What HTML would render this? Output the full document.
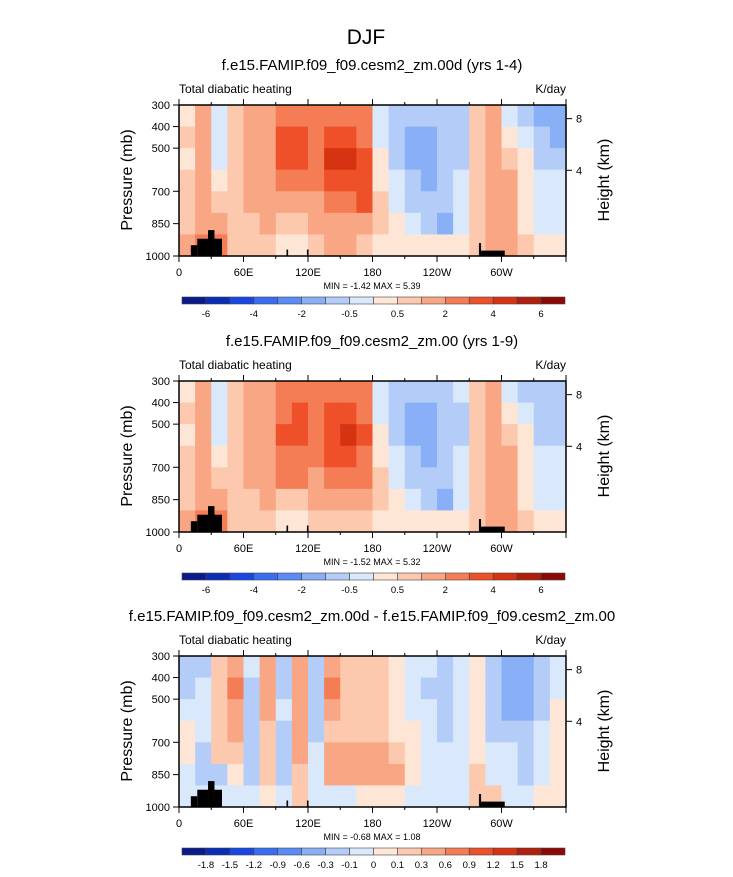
<!DOCTYPE html>
<html><head><meta charset="utf-8"><style>
body{margin:0;background:#fff}
svg text{font-family:"Liberation Sans",Arial,sans-serif;fill:#000}
</style></head><body>
<svg id="chart" width="733" height="872" viewBox="0 0 733 872" xmlns="http://www.w3.org/2000/svg">
<text x="366" y="44" font-size="21" text-anchor="middle">DJF</text>
</svg>
<script>
const lonCenters=[7.5,22.5,37.5,52.5,67.5,82.5,97.5,112.5,127.5,142.5,157.5,172.5,187.5,202.5,217.5,232.5,247.5,262.5,277.5,292.5,307.5,322.5,337.5,352.5];
const pressureBands=[[300,400],[400,500],[500,600],[600,700],[700,800],[800,900],[900,1000]];
const levels1=[-6,-5,-4,-3,-2,-1,-0.5,0,0.5,1,2,3,4,5,6];
const levels3=[-1.8,-1.5,-1.2,-0.9,-0.6,-0.3,-0.1,0,0.1,0.3,0.6,0.9,1.2,1.5,1.8];
const labels1=["-6","","-4","","-2","","-0.5","","0.5","","2","","4","","6"];
const labels3=["-1.8","-1.5","-1.2","-0.9","-0.6","-0.3","-0.1","0","0.1","0.3","0.6","0.9","1.2","1.5","1.8"];
const xTickLabels=["0","60E","120E","180","120W","60W"];
const xTickLons=[0,60,120,180,240,300];
const presTicks=[300,400,500,700,850,1000];
const heightTicks=[8,4];
const colors=["#0b1a8a","#0a2db5","#1848e2","#3a6cf2","#5b8bf5","#89aff6","#b4cdf8","#d9e9fb","#fde6d6","#fcc9af","#f8a683","#f47d56","#ee5129","#d63313","#b01f0b","#8c0a05"];
const field1=[
[0.3,1,-0.3,0.7,1.5,1.5,2,2.5,2,2.5,2.5,2,-0.3,-0.7,-0.7,-0.7,-0.7,-0.7,0.7,1,-0.2,-0.7,-1.2,-1.2],
[0.5,1.5,-0.3,0.7,1.5,1.5,3,3,2.5,3.5,3.5,2.5,-0.2,-0.7,-1.2,-1.2,-0.7,-0.7,0.7,1.5,0.2,-0.2,-0.7,-1.2],
[0.3,1.5,-0.3,0.7,1.5,1.5,3,3,2.5,4,4.5,3,0.2,-0.7,-1.2,-1.2,-0.7,-0.7,0.7,1.5,0.7,0.2,-0.7,-0.7],
[0.7,1.5,0.2,0.7,1,1.5,2,2.5,2,3,3,3,0.2,-0.3,-0.7,-1.2,-0.7,-0.3,0.7,1.5,1,0.2,-0.3,-0.3],
[0.7,1.5,0.7,0.7,1,1.5,1.5,1.5,1.5,2,2.5,3,0.7,-0.2,-0.7,-0.7,-0.7,-0.2,0.7,1.5,1,0.2,-0.3,-0.3],
[0.7,1.5,1.5,0.7,0.7,1,0.7,0.7,1,1.5,1.5,1.5,0.7,0.2,-0.2,-0.7,-1.2,-0.2,0.7,1.5,1,0.2,-0.3,-0.3],
[1.5,2,2,0.7,0.7,0.7,0.3,0.3,0.7,1,1,0.7,0.3,0.2,0.2,0.2,0.2,0.2,0.7,1,1.5,0.7,0.3,0.3]];
const field2=[
[0.3,1,-0.3,0.7,1.5,1.5,2,2,2,2.5,2.5,2,-0.3,-0.7,-0.7,-0.7,-0.7,-0.3,0.7,1,-0.2,-0.7,-0.7,-0.7],
[0.5,1.5,-0.3,0.7,1.5,1.5,2.5,3,2.5,3,3,2.5,-0.2,-0.7,-1.2,-1.2,-0.7,-0.7,0.7,1.5,0.2,-0.2,-0.7,-0.7],
[0.3,1.5,-0.3,0.7,1.5,1.5,3,3,2.5,3,4,3,0.2,-0.7,-1.2,-1.2,-0.7,-0.7,0.7,1.5,0.7,0.2,-0.7,-0.7],
[0.7,1.5,0.2,0.7,1,1.5,2,2.5,2,3,3,2.5,0.2,-0.3,-0.7,-1.2,-0.7,-0.3,0.7,1.5,1,0.2,-0.3,-0.3],
[0.7,1.5,0.7,0.7,1,1.5,2,2,1.5,2,2,2,0.7,-0.2,-0.7,-0.7,-0.7,-0.2,0.7,1.5,1,0.2,-0.3,-0.3],
[0.7,1.5,1.5,0.7,0.7,1,0.7,0.7,1,1.5,1.5,1.5,0.7,0.2,-0.2,-0.7,-1.2,-0.2,0.7,1.5,1,0.2,-0.3,-0.3],
[1.5,2,2,0.7,0.7,0.7,0.3,0.3,0.7,0.7,0.7,0.7,0.3,0.2,0.2,0.2,0.2,0.2,0.7,1,1.5,0.7,0.3,0.3]];
const field3=[
[-0.2,-0.15,0.2,0.5,-0.1,0.35,-0.2,0.5,-0.2,0.5,0.2,0.2,0.2,0.05,-0.05,-0.05,-0.2,-0.05,0.05,-0.3,-0.5,-0.6,-0.3,-0.05],
[-0.2,-0.1,0.2,0.6,-0.15,0.35,-0.2,0.4,-0.3,0.6,0.2,0.2,0.2,0.05,-0.05,-0.2,-0.3,-0.1,0.05,-0.3,-0.6,-0.6,-0.3,-0.05],
[-0.1,-0.1,0.1,0.5,-0.2,0.3,-0.1,0.35,-0.2,0.35,0.2,0.2,0.2,0.05,-0.05,-0.1,-0.2,-0.1,0.05,-0.2,-0.5,-0.4,-0.2,0.05],
[0.05,-0.1,0.1,0.35,-0.2,0.2,-0.2,0.3,-0.2,0.2,0.2,0.2,0.2,0.05,0.05,-0.05,-0.2,-0.1,0.05,-0.2,-0.2,-0.2,-0.1,0.05],
[0.05,-0.2,0.1,0.2,-0.2,0.1,-0.2,0.3,-0.1,0.35,0.35,0.4,0.4,0.2,0.05,-0.05,-0.1,-0.1,0.05,-0.1,-0.1,-0.2,-0.1,0.05],
[-0.1,-0.2,-0.15,0.05,-0.2,0.1,-0.2,0.25,-0.1,0.3,0.35,0.4,0.4,0.3,0.05,-0.1,-0.1,-0.1,0.1,-0.1,-0.1,-0.2,-0.1,0.05],
[-0.05,-0.1,-0.1,-0.05,-0.1,0.05,-0.1,0.1,-0.05,-0.05,-0.05,0.05,0.05,0.05,-0.05,-0.05,-0.05,-0.05,0.1,0.1,-0.05,-0.05,0.05,0.05]];
const topoLon=[[11,17],[17,27],[27,33],[33,40],[100,101.5],[119,120.5],[279,281],[281,303]];
const topoTop=[950,920,880,920,970,970,940,975];

const NS="http://www.w3.org/2000/svg";
const svg=document.getElementById('chart');
function mk(tag,attrs,parent){const e=document.createElementNS(NS,tag);for(const k in attrs)e.setAttribute(k,attrs[k]);(parent||svg).appendChild(e);return e;}
const X0=179,X1=566;
function xs(lon){return X0+(X1-X0)*lon/360;}
function colorFor(v,lv){let i=0;while(i<lv.length&&v>=lv[i])i++;return colors[i];}

function drawPanel(top,title,field,lv,labs,minmax){
  const Y1=top+151;
  const ys=p=>top+(Y1-top)*(p-300)/700;
  const g=mk('g',{});
  
  
  const t=mk('text',{x:372,y:top-35,'font-size':15,'text-anchor':'middle'},g);t.textContent=title;
  
  const l=mk('text',{x:X0,y:top-12,'font-size':12},g);l.textContent='Total diabatic heating';
  
  const u=mk('text',{x:X1,y:top-12,'font-size':12,'text-anchor':'end'},g);u.textContent='K/day';
  
  field.forEach((row,r)=>{row.forEach((v,c)=>{
    const x=xs(lonCenters[c]-7.5),w=xs(lonCenters[c]+7.5)-x;
    const y=ys(pressureBands[r][0]),h=ys(pressureBands[r][1])-y;
    const rc=mk('rect',{x:x,y:y,width:w+0.6,height:h+0.6,fill:colorFor(v,lv)},g);
    
  });});
  topoLon.forEach((tl,i)=>{
    const rc=mk('rect',{x:xs(tl[0]),y:ys(topoTop[i]),width:xs(tl[1])-xs(tl[0]),height:Y1-ys(topoTop[i]),fill:'#000'},g);
    
  });
  const b=mk('rect',{x:X0,y:top,width:X1-X0,height:151,fill:'none',stroke:'#000','stroke-width':1.5},g);
  
  for(let lon=0;lon<=360;lon+=30){
    const len=lon%60===0?6:3;
    mk('line',{x1:xs(lon),x2:xs(lon),y1:Y1,y2:Y1+len,stroke:'#000'},g);
    mk('line',{x1:xs(lon),x2:xs(lon),y1:top,y2:top-len,stroke:'#000'},g);
  }
  xTickLabels.forEach((s,i)=>{const tx=mk('text',{x:xs(xTickLons[i]),y:Y1+20,'font-size':11,'text-anchor':'middle'},g);tx.textContent=s;
    });
  presTicks.forEach(p=>{mk('line',{x1:X0-6,x2:X0,y1:ys(p),y2:ys(p),stroke:'#000'},g);
    const tx=mk('text',{x:X0-9,y:ys(p)+4,'font-size':11,'text-anchor':'end'},g);tx.textContent=p;
    });
  heightTicks.forEach(h=>{const p=1000*Math.exp(-h/7.9);
    mk('line',{x1:X1,x2:X1+6,y1:ys(p),y2:ys(p),stroke:'#000'},g);
    const tx=mk('text',{x:X1+10,y:ys(p)+4,'font-size':11},g);tx.textContent=h;
    });
  const yt=mk('text',{x:0,y:0,'font-size':16,'text-anchor':'middle',transform:`translate(132,${top+75}) rotate(-90)`},g);yt.textContent='Pressure (mb)';
  
  const ht=mk('text',{x:0,y:0,'font-size':16,'text-anchor':'middle',transform:`translate(609,${top+75}) rotate(-90)`},g);ht.textContent='Height (km)';
  
  const mm=mk('text',{x:372,y:Y1+33,'font-size':9,'text-anchor':'middle'},g);mm.textContent=minmax;
  
  const cy=Y1+41,cx0=182,bw=(565-182)/16;
  colors.forEach((c,i)=>{const rc=mk('rect',{x:cx0+i*bw,y:cy,width:bw,height:7,fill:c,stroke:'#444','stroke-width':0.6},g);
    });
  labs.forEach((s,i)=>{if(!s)return;const tx=mk('text',{x:cx0+(i+1)*bw,y:cy+20,'font-size':9.5,'text-anchor':'middle'},g);tx.textContent=s;
    });
}
drawPanel(105,'f.e15.FAMIP.f09_f09.cesm2_zm.00d (yrs 1-4)',field1,levels1,labels1,'MIN =  -1.42  MAX =   5.39');
drawPanel(381,'f.e15.FAMIP.f09_f09.cesm2_zm.00 (yrs 1-9)',field2,levels1,labels1,'MIN =  -1.52  MAX =   5.32');
drawPanel(656,'f.e15.FAMIP.f09_f09.cesm2_zm.00d - f.e15.FAMIP.f09_f09.cesm2_zm.00',field3,levels3,labels3,'MIN =  -0.68  MAX =   1.08');
</script>
</body></html>
